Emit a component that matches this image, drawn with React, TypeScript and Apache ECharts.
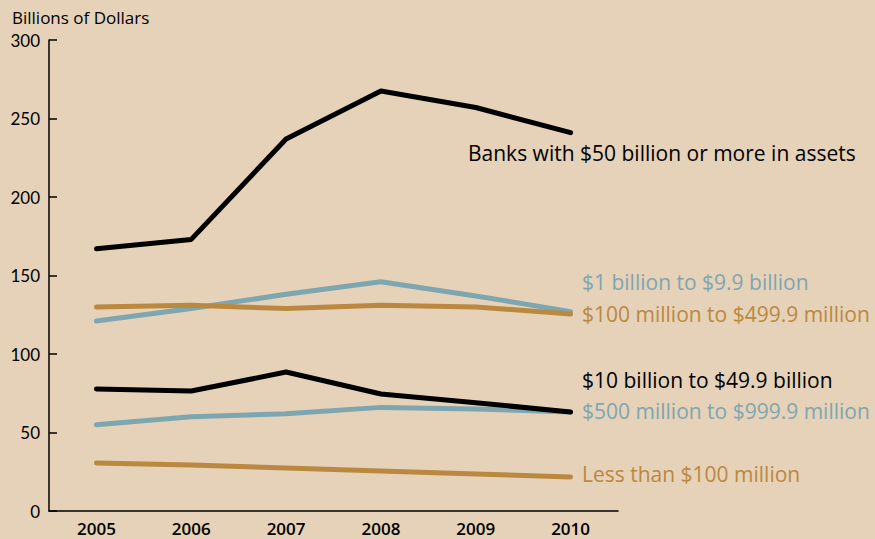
import React, { useEffect, useRef } from "react";
import * as echarts from "echarts";

const years = ["2005", "2006", "2007", "2008", "2009", "2010"];
const yTicks = [0, 50, 100, 150, 200, 250, 300];

const big = [167, 173, 237, 267.5, 257, 241];
const oneToTenB = [121, 129, 138, 146, 137, 127];
const hundredTo500M = [130, 131, 129, 131, 130, 125.5];
const tenTo50B = [77.7, 76.4, 88.5, 74.5, 69, 63];
const fiveHundredTo1000M = [55, 60, 62, 66, 65, 63];
const lessThan100M = [30.6, 29.3, 27.4, 25.5, 23.6, 21.7];

const BLACK = "#000000";
const BLUE = "#7ea6b1";
const BROWN = "#bb8840";
const BG = "#e5d2b8";
const FONT = "'Open Sans', Lato, sans-serif";
const TICKFONT = "Lato, 'Open Sans', sans-serif";

const seriesDefs = [
  { name: "Banks with $50 billion or more in assets", data: big, color: BLACK },
  { name: "$1 billion to $9.9 billion", data: oneToTenB, color: BLUE },
  { name: "$100 million to $499.9 million", data: hundredTo500M, color: BROWN },
  { name: "$10 billion to $49.9 billion", data: tenTo50B, color: BLACK },
  { name: "$500 million to $999.9 million", data: fiveHundredTo1000M, color: BLUE },
  { name: "Less than $100 million", data: lessThan100M, color: BROWN },
];

// label placements [left, centerY]
const labelPos: [number, number][] = [
  [468, 155],
  [582, 284],
  [582, 316],
  [582, 382],
  [582, 413],
  [582, 476],
];

export default function App() {
  const ref = useRef<HTMLDivElement>(null);
  useEffect(() => {
    document.body.style.margin = "0";
    const chart = echarts.init(ref.current!, null, { renderer: "svg" });
    chart.setOption({
      animation: false,
      backgroundColor: BG,
      grid: { left: 49, right: 257, top: 40, bottom: 28, containLabel: false },
      xAxis: {
        type: "category",
        data: years,
        boundaryGap: true,
        axisLine: { lineStyle: { color: "#000", width: 1.5 } },
        axisTick: { inside: true, length: 11, lineStyle: { color: "#000", width: 1.5 } },
        axisLabel: { color: "#000", fontFamily: FONT, fontSize: 17, fontWeight: 600, margin: 9 },
      },
      yAxis: {
        type: "value",
        min: 0,
        max: 300,
        interval: 50,
        splitLine: { show: false },
        axisLine: { show: true, lineStyle: { color: "#000", width: 1.5 } },
        axisTick: { show: true, inside: true, length: 8, lineStyle: { color: "#000", width: 1.5 } },
        axisLabel: {
          color: "#000",
          fontFamily: TICKFONT,
          fontSize: 17,
          margin: 9,
          formatter: (v: number) => (yTicks.includes(v) ? String(v) : ""),
        },
        name: "Billions of Dollars",
        nameLocation: "end",
        nameGap: 14,
        nameTextStyle: { color: "#000", fontFamily: FONT, fontSize: 17, align: "left", padding: [0, 0, 0, -37] },
      },
      series: seriesDefs.map((s) => ({
        type: "line",
        name: s.name,
        data: s.data,
        symbol: "none",
        lineStyle: { color: s.color, width: 5, cap: "round", join: "round" },
        z: s.color === BLACK ? 3 : 2,
      })),
      graphic: seriesDefs.map((s, i) => ({
        type: "text",
        left: labelPos[i][0],
        top: labelPos[i][1] - 13,
        style: {
          text: s.name,
          fill: s.color,
          font: `21px ${FONT}`,
        },
      })),
    });
    return () => chart.dispose();
  }, []);
  return <div ref={ref} style={{ width: 875, height: 539 }} />;
}
